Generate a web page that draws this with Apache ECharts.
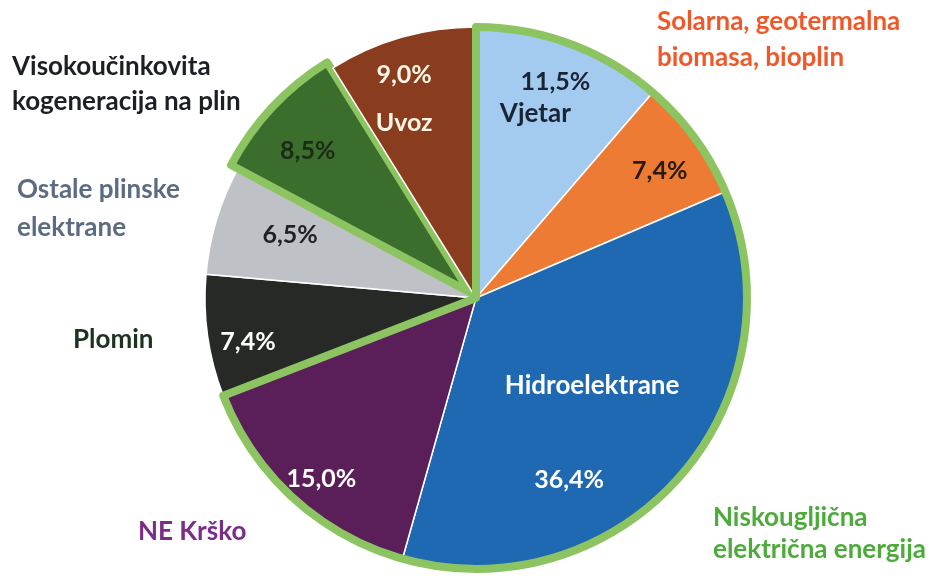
<!DOCTYPE html>
<html>
<head>
<meta charset="utf-8">
<script src="https://cdn.jsdelivr.net/npm/echarts@6/dist/echarts.min.js"></script>
<style>
html,body{margin:0;padding:0;background:#fff;}
#chart{width:935px;height:578px;}
</style>
</head>
<body>
<div id="chart"></div>
<script>
// ---- data ----
const categories = ['Vjetar', 'Solarna, geotermalna biomasa, bioplin', 'Hidroelektrane', 'NE Krško', 'Plomin', 'Ostale plinske elektrane', 'Visokoučinkovita kogeneracija na plin', 'Uvoz'];
const shares = [11.5, 7.4, 36.4, 15.0, 7.4, 6.5, 8.5, 9.0];
const lowCarbonCount = 4; // first four categories
const lowCarbonLabel = 'Niskougljična\nelektrična energija';
const outerLabels = ['', 'Solarna, geotermalna\nbiomasa, bioplin', '', 'NE Krško', 'Plomin', 'Ostale plinske\nelektrane', 'Visokoučinkovita\nkogeneracija na plin', ''];

// ---- style ----
const colors = ['#a3cbef', '#ee7b33', '#1f69b2', '#5a1f58', '#272927', '#bec2c7', '#3b6e2c', '#8a3c1e'];
const pctColors = ['#1b2433', '#2a1a12', '#ffffff', '#ffffff', '#ffffff', '#1f2022', '#1c2a18', '#fff6e6'];
const outerColors = ['', '#f0582a', '', '#7b2d8a', '#1d3320', '#5b6b82', '#1c1f26', ''];
const green = '#8cc462';
const R = 271, cx = 476, cy = 298;
const FONT = 'Lato';
const tweaks = [[-19, 11], [2, 6], [-53, -14], [-3, 14], [-5, 12], [30, 1], [2, 12], [-10, 18]];

const pct = v => v.toFixed(1).replace('.', ',') + '%';
const lowSum = shares.slice(0, lowCarbonCount).reduce((a, b) => a + b, 0);
const restSum = shares.slice(lowCarbonCount).reduce((a, b) => a + b, 0);
const KOGE = 6;

function labelText(i) {
  const p = pct(shares[i]);
  if (i === 0) return '{pv|' + p + '}\n{n|' + categories[i] + '}';
  if (i === 2) return '{hn|' + categories[i] + '}\n{hn| }\n{hp|' + p + '}';
  if (i === 7) return '{up|' + p + '}\n{un|' + categories[i] + '}';
  return '{p|' + p + '}';
}

const chart = echarts.init(document.getElementById('chart'), null, {renderer: 'canvas'});

const graphics = [];
const outerPos = {1: [657, 4, 36], 3: [138, 514, 35], 4: [73, 322, 35], 5: [17, 171, 38], 6: [12, 49, 35]};
Object.keys(outerPos).forEach(k => {
  const [x, y, lh] = outerPos[k];
  graphics.push({type: 'text', left: x, top: y, style: {text: outerLabels[k], fill: outerColors[k], font: 'bold 26px ' + FONT, lineHeight: lh}});
});
graphics.push({type: 'text', left: 713, top: 502, style: {text: lowCarbonLabel, fill: '#4cab3a', font: 'bold 26px ' + FONT, lineHeight: 32}});

chart.setOption({
  animation: false,
  graphic: graphics,
  series: [
    {
      type: 'pie', radius: R, center: [cx, cy], startAngle: 90, clockwise: true,
      selectedMode: 'single', selectedOffset: 8, silent: true,
      label: {show: false}, labelLine: {show: false},
      emphasis: {disabled: true},
      data: categories.map((n, i) => ({
        name: n, value: shares[i], selected: i === KOGE,
        itemStyle: {color: colors[i], borderColor: i === KOGE ? green : '#ffffff', borderWidth: i === KOGE ? 8 : 1.5}
      }))
    },
    {
      type: 'pie', radius: R, center: [cx, cy], startAngle: 90, clockwise: true, silent: true,
      label: {show: false}, labelLine: {show: false}, emphasis: {disabled: true},
      data: [
        {name: 'low', value: lowSum, itemStyle: {color: 'rgba(0,0,0,0)', borderColor: green, borderWidth: 8}},
        {name: 'rest', value: restSum, itemStyle: {color: 'rgba(0,0,0,0)', borderWidth: 0}}
      ]
    },
    {
      type: 'pie', radius: [R * 0.64, R], center: [cx, cy], startAngle: 90, clockwise: true,
      selectedMode: 'single', selectedOffset: 8, silent: true, avoidLabelOverlap: false,
      emphasis: {disabled: true}, labelLine: {show: false},
      labelLayout: function (params) {
        const t = tweaks[params.dataIndex];
        return {dx: t[0], dy: t[1]};
      },
      label: {
        show: true, position: 'inside',
        formatter: p => labelText(p.dataIndex),
        rich: {}
      },
      data: categories.map((n, i) => ({
        name: n, value: shares[i], selected: i === KOGE,
        itemStyle: {color: 'rgba(0,0,0,0)', borderWidth: 0},
        label: {
          rich: {
            p: {fontFamily: FONT, fontWeight: 'bold', fontSize: 25, color: pctColors[i], lineHeight: 30},
            pv: {fontFamily: FONT, fontWeight: 'bold', fontSize: 25, color: pctColors[i], lineHeight: 32, padding: [0, 0, 0, 40]},
            n: {fontFamily: FONT, fontWeight: 'bold', fontSize: 26, color: pctColors[i], lineHeight: 32},
            up: {fontFamily: FONT, fontWeight: 'bold', fontSize: 25, color: pctColors[i], lineHeight: 48},
            un: {fontFamily: FONT, fontWeight: 'bold', fontSize: 25, color: pctColors[i], lineHeight: 48},
            hn: {fontFamily: FONT, fontWeight: 'bold', fontSize: 26, color: '#ffffff', lineHeight: 47.5},
            hp: {fontFamily: FONT, fontWeight: 'bold', fontSize: 25, color: '#ffffff', lineHeight: 47.5, padding: [0, 46, 0, 0]}
          }
        }
      }))
    }
  ]
});
</script>
</body>
</html>
